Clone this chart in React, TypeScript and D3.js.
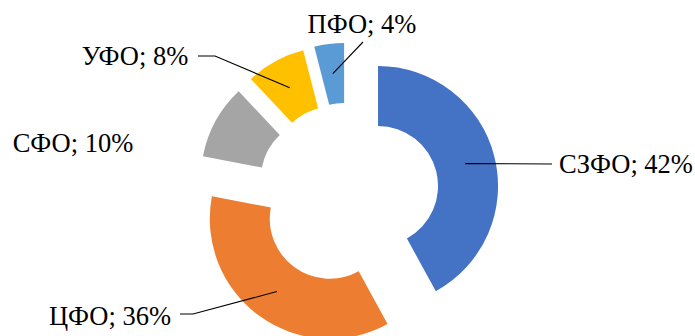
import React from "react";
import * as d3 from "d3";

const categories = ["СЗФО", "ЦФО", "СФО", "УФО", "ПФО"];
const values = [42, 36, 10, 8, 4];
const colors = ["#4472C4", "#ED7D31", "#A5A5A5", "#FFC000", "#5B9BD5"];

// layout: label anchor (text center x, baseline y) and optional leader elbow
const labelPos: [number, number][] = [
  [626, 173],
  [110, 325],
  [73, 152],
  [135, 65],
  [362, 33],
];
const leaderElbow: ([number, number][] | null)[] = [
  [[552, 164]],
  [[193, 314], [180, 314]],
  null,
  [[215, 56], [198, 56]],
  [[363, 42]],
];

const W = 695;
const H = 336;
const CX = 348;
const CY = 193.7;
const RO = 120;
const RI = 60;
const EXPLODE = 31;

export default function App() {
  const pie = d3.pie<number>().sort(null).value((d) => d);
  const arcs = pie(values);
  const arc = d3.arc<d3.PieArcDatum<number>>().innerRadius(RI).outerRadius(RO);
  return (
    <svg
      width={W}
      height={H}
      style={{ position: "absolute", left: 0, top: 0, background: "#fff" }}
    >
      {arcs.map((a, i) => {
        const mid = (a.startAngle + a.endAngle) / 2;
        const ox = CX + EXPLODE * Math.sin(mid);
        const oy = CY - EXPLODE * Math.cos(mid);
        const [c0, c1] = arc.centroid(a);
        const start: [number, number] = [ox + c0, oy + c1];
        const elbow = leaderElbow[i];
        const pts = elbow ? [start, ...elbow] : null;
        return (
          <g key={categories[i]}>
            <path d={arc(a) || ""} transform={`translate(${ox},${oy})`} fill={colors[i]} />
            {pts && (
              <path
                d={d3.line()(pts) || ""}
                fill="none"
                stroke="#000"
                strokeWidth={1.1}
              />
            )}
          </g>
        );
      })}
      {arcs.map((a, i) => (
        <text
          key={"t" + i}
          x={labelPos[i][0]}
          y={labelPos[i][1]}
          textAnchor="middle"
          fontFamily="'Liberation Serif', 'Times New Roman', serif"
          fontSize={26.5}
          fill="#000"
        >
          {`${categories[i]}; ${values[i]}%`}
        </text>
      ))}
    </svg>
  );
}
